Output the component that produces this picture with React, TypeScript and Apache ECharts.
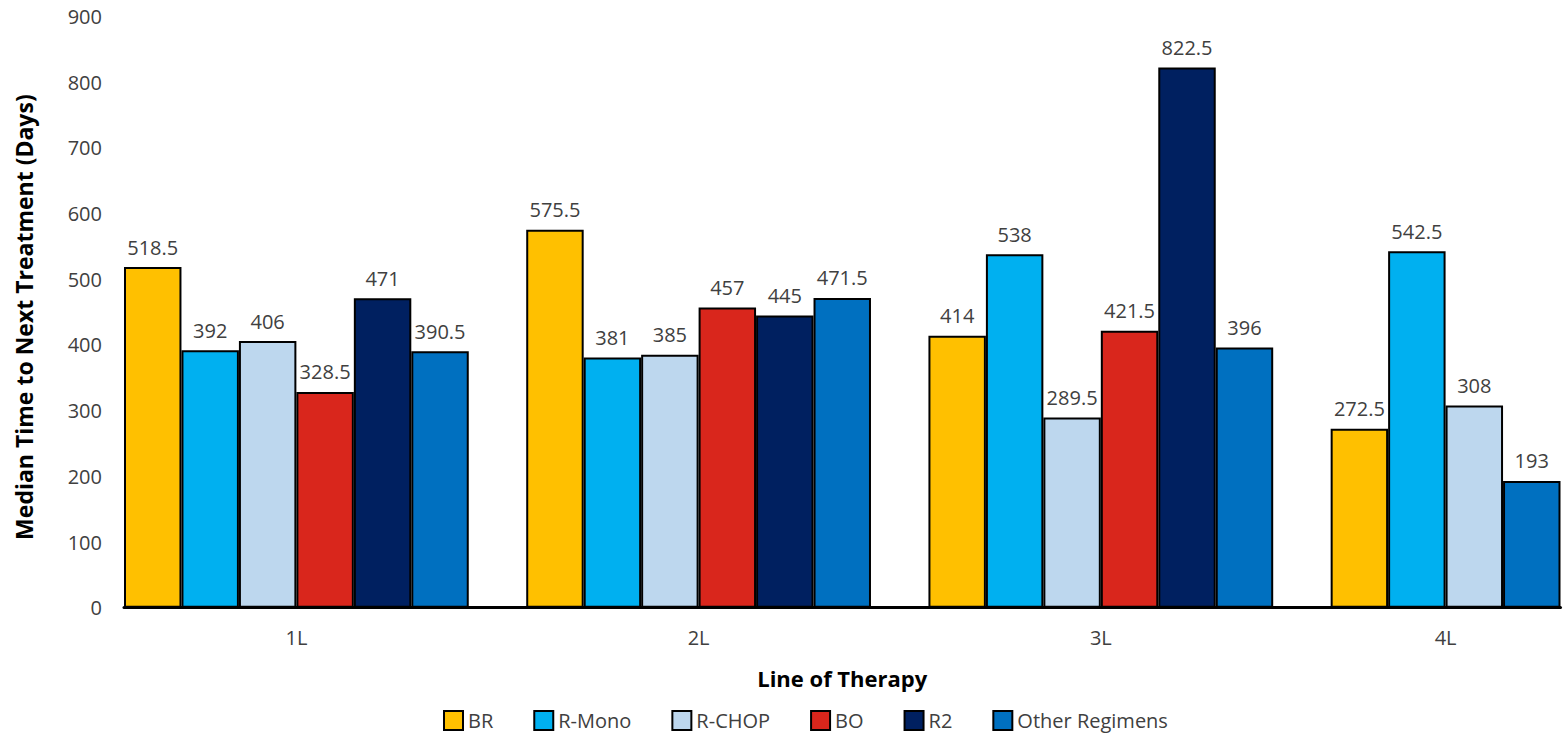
import React, { useEffect, useRef } from "react";
import * as echarts from "echarts";

const categories = ["1L", "2L", "3L", "4L"];
const regimens = ["BR", "R-Mono", "R-CHOP", "BO", "R2", "Other Regimens"];
const brValues = [518.5, 575.5, 414, 272.5];
const rMonoValues = [392, 381, 538, 542.5];
const rChopValues = [406, 385, 289.5, 308];
const boValues = [328.5, 457, 421.5, null];
const r2Values = [471, 445, 822.5, null];
const otherValues = [390.5, 471.5, 396, 193];
const regimenColors = ["#FFC000", "#00B0F0", "#BDD7EE", "#D9261C", "#002060", "#0070C0"];
const yTicks = { min: 0, max: 900, interval: 100 };

const W = 1563;
const H = 737;
const GRID_LEFT = 124;
const GRID_RIGHT = 2.5;
const FONT = "'Open Sans', 'Noto Sans', sans-serif";

export default function App() {
  const ref = useRef<HTMLDivElement>(null);

  useEffect(() => {
    if (!ref.current) return;
    const chart = echarts.init(ref.current, undefined, { renderer: "svg" });

    const valueLists = [brValues, rMonoValues, rChopValues, boValues, r2Values, otherValues];
    const seriesData: Array<Array<[number, number]>> = regimens.map(() => []);
    const groupCenters: number[] = [];
    let slot = 0;
    categories.forEach((_, ci) => {
      if (ci > 0) slot += 1;
      const start = slot;
      valueLists.forEach((vals, si) => {
        const v = vals[ci];
        if (v !== null && v !== undefined) {
          seriesData[si].push([slot + 0.5, v]);
          slot += 1;
        }
      });
      groupCenters.push((start + slot) / 2);
    });
    const totalSlots = slot;
    const barWidth = (W - GRID_LEFT - GRID_RIGHT) / totalSlots;

    chart.setOption({
      animation: false,
      backgroundColor: "#ffffff",
      textStyle: { fontFamily: FONT },
      grid: { left: GRID_LEFT, right: GRID_RIGHT, top: 16.5, bottom: 129.3, containLabel: false },
      legend: {
        data: regimens,
        left: 438,
        top: 705,
        icon: "rect",
        itemWidth: 19,
        itemHeight: 19,
        itemGap: 40,
        textStyle: { fontSize: 20, color: "#404040", fontFamily: FONT },
      },
      xAxis: {
        type: "value",
        min: 0,
        max: totalSlots,
        name: "Line of Therapy",
        nameLocation: "middle",
        nameGap: 59,
        nameTextStyle: { fontSize: 22, fontWeight: "bold", color: "#000000", fontFamily: FONT },
        axisLine: { show: true, lineStyle: { color: "#000000", width: 3 } },
        axisTick: { show: false },
        splitLine: { show: false },
        axisLabel: {
          customValues: groupCenters,
          margin: 20,
          fontSize: 20,
          color: "#404040",
          formatter: (v: number) => {
            const i = groupCenters.findIndex((c) => Math.abs(c - v) < 1e-6);
            return i >= 0 ? categories[i] : "";
          },
        },
      },
      yAxis: {
        type: "value",
        min: yTicks.min,
        max: yTicks.max,
        interval: yTicks.interval,
        name: "Median Time to Next Treatment (Days)",
        nameLocation: "middle",
        nameGap: 89,
        nameTextStyle: { fontSize: 23, fontWeight: "bold", color: "#000000", fontFamily: FONT, padding: [0, 10, 0, 0] },
        axisLine: { show: false },
        axisTick: { show: false },
        splitLine: { show: false },
        axisLabel: { margin: 22, fontSize: 20, color: "#404040" },
      },
      series: regimens.map((name, si) => ({
        name,
        type: "bar",
        data: seriesData[si],
        barWidth,
        barGap: "-100%",
        itemStyle: { color: regimenColors[si], borderColor: "#000000", borderWidth: 2 },
        label: {
          show: true,
          position: "top",
          distance: 10,
          fontSize: 20,
          color: "#404040",
          fontFamily: FONT,
          formatter: (p: any) => String(p.value[1]),
        },
      })),
    });

    return () => chart.dispose();
  }, []);

  return (
    <div
      ref={ref}
      style={{ position: "absolute", left: 0, top: 0, width: W, height: H }}
    />
  );
}
